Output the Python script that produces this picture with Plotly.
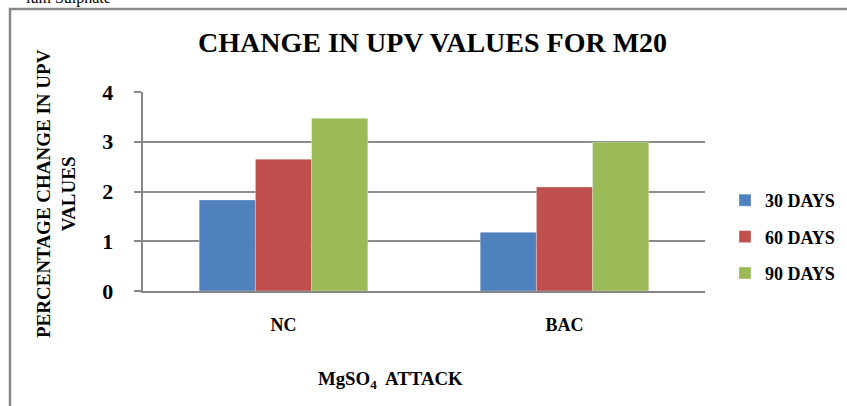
import plotly.graph_objects as go

categories = ["NC", "BAC"]
series_names = ["30 DAYS", "60 DAYS", "90 DAYS"]
values_30 = [1.83, 1.18]
values_60 = [2.65, 2.09]
values_90 = [3.47, 2.99]
colors = ["#4F81BD", "#C0504D", "#9BBB59"]
y_ticks = [0, 1, 2, 3, 4]
y_tick_labels = ["0", "1", "2", "3", "4"]

W, H = 847, 406
L, R, T, B = 143, 142, 92, 115
pw, ph = W - L - R, H - T - B


def px_x(px):
    return (px - L) / pw


def px_y(py):
    return (H - B - py) / ph


FONT = "Liberation Serif, Times New Roman, serif"
PAD = "\u00a0\u00a0\u00a0"

fig = go.Figure()
for name, vals, col in zip(series_names, [values_30, values_60, values_90], colors):
    fig.add_trace(go.Bar(
        x=categories, y=vals, name=name, legendgroup=name,
        marker=dict(color=col, line=dict(color="rgba(255,255,255,0.5)", width=0.6)),
    ))

fig.update_layout(
    width=W, height=H,
    margin=dict(l=L, r=R, t=T, b=B, autoexpand=False),
    paper_bgcolor="white", plot_bgcolor="white",
    barmode="group", bargap=0.4, bargroupgap=0,
    font=dict(family=FONT, color="black"),
    showlegend=True,
    legend=dict(
        x=px_x(725), y=px_y(237), xanchor="left", yanchor="middle",
        font=dict(family=FONT, size=18, color="black", weight="bold"),
        itemwidth=30, tracegroupgap=10, bgcolor="rgba(0,0,0,0)",
    ),
    xaxis=dict(
        showline=True, linecolor="#868686", linewidth=2,
        ticks="", showgrid=False, automargin=False,
        tickfont=dict(family=FONT, size=18, color="black", weight="bold"),
        ticklabelstandoff=16,
    ),
    yaxis=dict(
        range=[0, 4], tickvals=y_ticks, ticktext=[t + PAD for t in y_tick_labels],
        showline=True, linecolor="#868686", linewidth=1.5, automargin=False,
        ticks="outside", ticklen=7, tickcolor="#868686", tickwidth=1.5,
        showgrid=True, gridcolor="#8c8c8c", gridwidth=1.5,
        zeroline=False,
        tickfont=dict(family=FONT, size=22, color="black", weight="bold"),
    ),
    annotations=[
        dict(text="<b>CHANGE IN UPV VALUES FOR M20</b>", x=px_x(432), y=px_y(43),
             xref="paper", yref="paper", xanchor="center", yanchor="middle",
             showarrow=False, font=dict(family=FONT, size=28, color="black")),
        dict(text="<b>PERCENTAGE CHANGE IN UPV<br>VALUES</b>", x=px_x(56), y=px_y(194),
             xref="paper", yref="paper", xanchor="center", yanchor="middle",
             textangle=-90, showarrow=False,
             font=dict(family=FONT, size=19, color="black")),
        dict(text="<b>MgSO<sub>4</sub>  ATTACK</b>", x=px_x(390), y=px_y(380),
             xref="paper", yref="paper", xanchor="center", yanchor="middle",
             showarrow=False, font=dict(family=FONT, size=18.8, color="black")),
        dict(text="ium Sulphate", x=px_x(113), y=px_y(-2),
             xref="paper", yref="paper", xanchor="right", yanchor="middle",
             showarrow=False, font=dict(family=FONT, size=16, color="black")),
    ],
    shapes=[
        dict(type="rect", xref="paper", yref="paper",
             x0=px_x(10), x1=px_x(900), y0=px_y(450), y1=px_y(9),
             line=dict(color="#8a8a8a", width=2.5), fillcolor="rgba(0,0,0,0)",
             layer="below"),
    ],
)

fig.write_html("out.html", config={"displayModeBar": False},
               post_script="document.body.style.margin='0px';")
